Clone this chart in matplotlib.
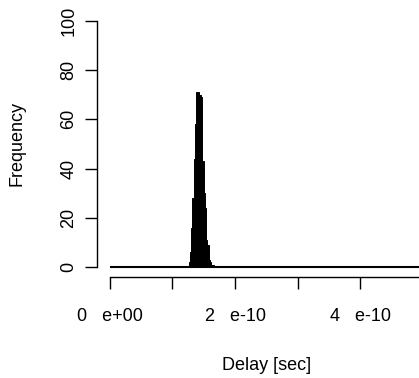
"""Histogram of measured delay values (R base-graphics look)."""

import matplotlib

matplotlib.use("Agg")
import matplotlib.pyplot as plt
import numpy as np

W_PX, H_PX = 419, 378
DPI = 100
FONT = "Liberation Sans"
FS = 13

# histogram: bin width and the occupied bins (counts)
BIN_W = 0.02e-10
FIRST_EDGE = 1.26e-10
COUNTS = [2, 6, 16, 28, 44, 58, 71, 71, 70, 70, 69, 43, 30, 24, 11, 9, 3, 2, 1, 1]
HIST_RANGE = (0.0, 5.02e-10)

X_TICKS = [0, 1e-10, 2e-10, 3e-10, 4e-10, 5e-10]
X_TICKLABELS = ["0   e+00", "", "2   e-10", "", "4   e-10", ""]
Y_TICKS = [0, 20, 40, 60, 80, 100]
X_LABEL = "Delay [sec]"
Y_LABEL = "Frequency"

plt.rcParams["font.family"] = [FONT, "DejaVu Sans"]

fig = plt.figure(figsize=(W_PX / DPI, H_PX / DPI), dpi=DPI)
# plot region in pixels (R style): left 97, right 437 (past the edge), top 11, bottom 277
left, right, top, bottom = 97, 437, 11, 277
ax = fig.add_axes([left / W_PX, 1 - bottom / H_PX, (right - left) / W_PX, (bottom - top) / H_PX])

edges = FIRST_EDGE + BIN_W * np.arange(len(COUNTS) + 1)
ax.bar(edges[:-1], COUNTS, width=BIN_W, align="edge", color="black",
       edgecolor="black", linewidth=0.7)
# zero-height bins show as a line along the baseline
ax.hlines(0, HIST_RANGE[0], HIST_RANGE[1], color="black", linewidth=1.5)

span = HIST_RANGE[1] - HIST_RANGE[0]
ax.set_xlim(HIST_RANGE[0] - 0.04 * span, HIST_RANGE[1] + 0.04 * span)
ax.set_ylim(-4, 104)

for s in ("top", "right"):
    ax.spines[s].set_visible(False)
ax.spines["left"].set_bounds(0, 100)
ax.spines["bottom"].set_bounds(X_TICKS[0], X_TICKS[-1])
for s in ("left", "bottom"):
    ax.spines[s].set_linewidth(1.0)

ax.set_xticks(X_TICKS)
ax.set_xticklabels(X_TICKLABELS)
ax.set_yticks(Y_TICKS)
ax.set_yticklabels([str(v) for v in Y_TICKS], va="center")
ax.tick_params(axis="both", direction="out", length=8.6, width=1.0,
               labelsize=FS, colors="black")
ax.tick_params(axis="x", pad=14)
ax.tick_params(axis="y", pad=5.5, labelrotation=90)

fig.text(267 / W_PX, 1 - 366 / H_PX, X_LABEL, ha="center", va="center", fontsize=FS)
fig.text(17 / W_PX, 1 - 144 / H_PX, Y_LABEL, ha="center", va="center",
         rotation=90, fontsize=FS)

fig.savefig("out.png", dpi=DPI)
